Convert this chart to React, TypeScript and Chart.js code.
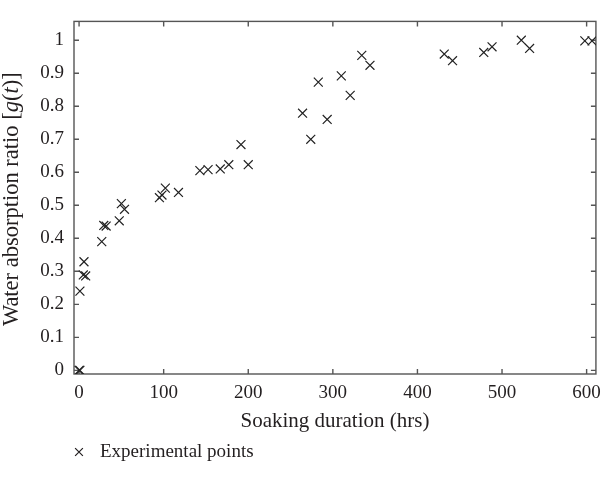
import { useEffect, useRef } from 'react';
import { Chart, registerables } from 'chart.js';
import { drawPoint } from 'chart.js/helpers';

Chart.register(...registerables);

const soakHours = [0, 1, 1, 5, 7.8, 5.8, 26.8, 29.2, 32, 47.5, 50, 53.7, 95, 98, 102, 117.5, 142.8, 152.5, 166.9, 177, 191.4, 200, 264.2, 273.9, 282.8, 293.3, 310, 320.5, 334.2, 343.9, 431.7, 441.5, 478.4, 488.2, 522.8, 532.6, 597.9, 606.4];
const absorptionRatio = [0, 0, 0.24, 0.289, 0.286, 0.329, 0.39, 0.439, 0.437, 0.453, 0.505, 0.488, 0.523, 0.531, 0.552, 0.539, 0.605, 0.608, 0.61, 0.623, 0.684, 0.623, 0.779, 0.7, 0.873, 0.76, 0.892, 0.833, 0.954, 0.924, 0.958, 0.938, 0.963, 0.98, 1.0, 0.975, 0.998, 0.998];

const seriesLabel = 'Experimental points';
const xTitle = 'Soaking duration (hrs)';
const yTitleParts: [string, boolean][] = [
  ['Water absorption ratio [', false],
  ['g', true],
  ['(', false],
  ['t', true],
  [')]', false],
];

const FONT = '"Liberation Serif", "DejaVu Serif", serif';
const TEXT = '#231f20';
const AXIS = '#555555';

const framePlugin = {
  id: 'frameTicks',
  beforeDatasetsDraw(chart: any) {
    const { ctx, chartArea: a, scales } = chart;
    ctx.save();
    ctx.strokeStyle = AXIS;
    ctx.lineWidth = 1.4;
    ctx.strokeRect(a.left, a.top, a.right - a.left, a.bottom - a.top);
    const len = 5;
    ctx.beginPath();
    for (const t of scales.x.ticks) {
      const px = scales.x.getPixelForValue(t.value);
      ctx.moveTo(px, a.bottom);
      ctx.lineTo(px, a.bottom - len);
      ctx.moveTo(px, a.top);
      ctx.lineTo(px, a.top + len);
    }
    for (const t of scales.y.ticks) {
      const py = scales.y.getPixelForValue(t.value);
      ctx.moveTo(a.left, py);
      ctx.lineTo(a.left + len, py);
      ctx.moveTo(a.right, py);
      ctx.lineTo(a.right - len, py);
    }
    ctx.stroke();
    ctx.restore();
  },
};

const yTitlePlugin = {
  id: 'yTitleRich',
  afterDraw(chart: any) {
    const { ctx, chartArea: a } = chart;
    ctx.save();
    const cx = 12.5;
    const cy = (a.top + a.bottom) / 2 + 1.5;
    ctx.translate(cx, cy);
    ctx.rotate(-Math.PI / 2);
    ctx.fillStyle = TEXT;
    ctx.textBaseline = 'middle';
    ctx.textAlign = 'left';
    const fonts = yTitleParts.map(([, it]) => `${it ? 'italic ' : ''}22.5px ${FONT}`);
    let total = 0;
    const widths = yTitleParts.map(([s], i) => {
      ctx.font = fonts[i];
      const w = ctx.measureText(s).width;
      total += w;
      return w;
    });
    let x = -total / 2;
    yTitleParts.forEach(([s], i) => {
      ctx.font = fonts[i];
      ctx.fillText(s, x, 0);
      x += widths[i];
    });
    ctx.restore();
  },
};

const legendPlugin = {
  id: 'bottomLegendRich',
  afterDraw(chart: any) {
    const { ctx } = chart;
    const ds = chart.data.datasets[0];
    ctx.save();
    ctx.strokeStyle = TEXT;
    ctx.fillStyle = TEXT;
    ctx.lineWidth = 1.2;
    drawPoint(ctx, { pointStyle: 'crossRot', radius: 5.5, rotation: 0, borderWidth: 1.2 } as any, 79, 452);
    ctx.font = `19px ${FONT}`;
    ctx.textBaseline = 'middle';
    ctx.textAlign = 'left';
    ctx.fillText(ds.label, 100, 452);
    ctx.restore();
  },
};

export default function App() {
  const ref = useRef<HTMLCanvasElement>(null);
  useEffect(() => {
    document.body.style.margin = '0';
    const canvas = ref.current!;
    const chart = new Chart(canvas, {
      type: 'scatter',
      data: {
        datasets: [
          {
            label: seriesLabel,
            data: soakHours.map((x, i) => ({ x, y: absorptionRatio[i] })),
            pointStyle: 'crossRot',
            pointRadius: 6.3,
            pointHoverRadius: 6.3,
            borderColor: '#222222',
            backgroundColor: 'rgba(0,0,0,0)',
            pointBorderWidth: 1.2,
            showLine: false,
          },
        ],
      },
      options: {
        animation: false,
        responsive: false,
        devicePixelRatio: 1,
        layout: { padding: { top: 11, right: 6, left: 0, bottom: 46 } },
        plugins: {
          legend: { display: false },
          tooltip: { enabled: false },
        },
        scales: {
          x: {
            type: 'linear',
            min: -6,
            max: 611,
            grid: { display: false, drawTicks: false },
            border: { display: false },
            ticks: {
              stepSize: 100,
              includeBounds: false,
              padding: 8,
              color: TEXT,
              font: { family: FONT, size: 19 },
              maxRotation: 0,
            },
            title: {
              display: true,
              text: xTitle,
              color: TEXT,
              font: { family: FONT, size: 21 },
              padding: { top: 0, bottom: 0 },
            },
            afterFit(scale: any) {
              scale.height = 60;
            },
          },
          y: {
            type: 'linear',
            min: -0.011,
            max: 1.057,
            grid: { display: false, drawTicks: false },
            border: { display: false },
            ticks: {
              stepSize: 0.1,
              includeBounds: false,
              padding: 10,
              color: TEXT,
              font: { family: FONT, size: 19 },
              callback: (v: any) => String(Number(Number(v).toFixed(2))),
            },
            afterFit(scale: any) {
              scale.width = 74;
            },
          },
        },
      },
      plugins: [framePlugin, yTitlePlugin, legendPlugin],
    });
    return () => chart.destroy();
  }, []);
  return <canvas ref={ref} width={609} height={480} style={{ display: 'block', width: 609, height: 480 }} />;
}
